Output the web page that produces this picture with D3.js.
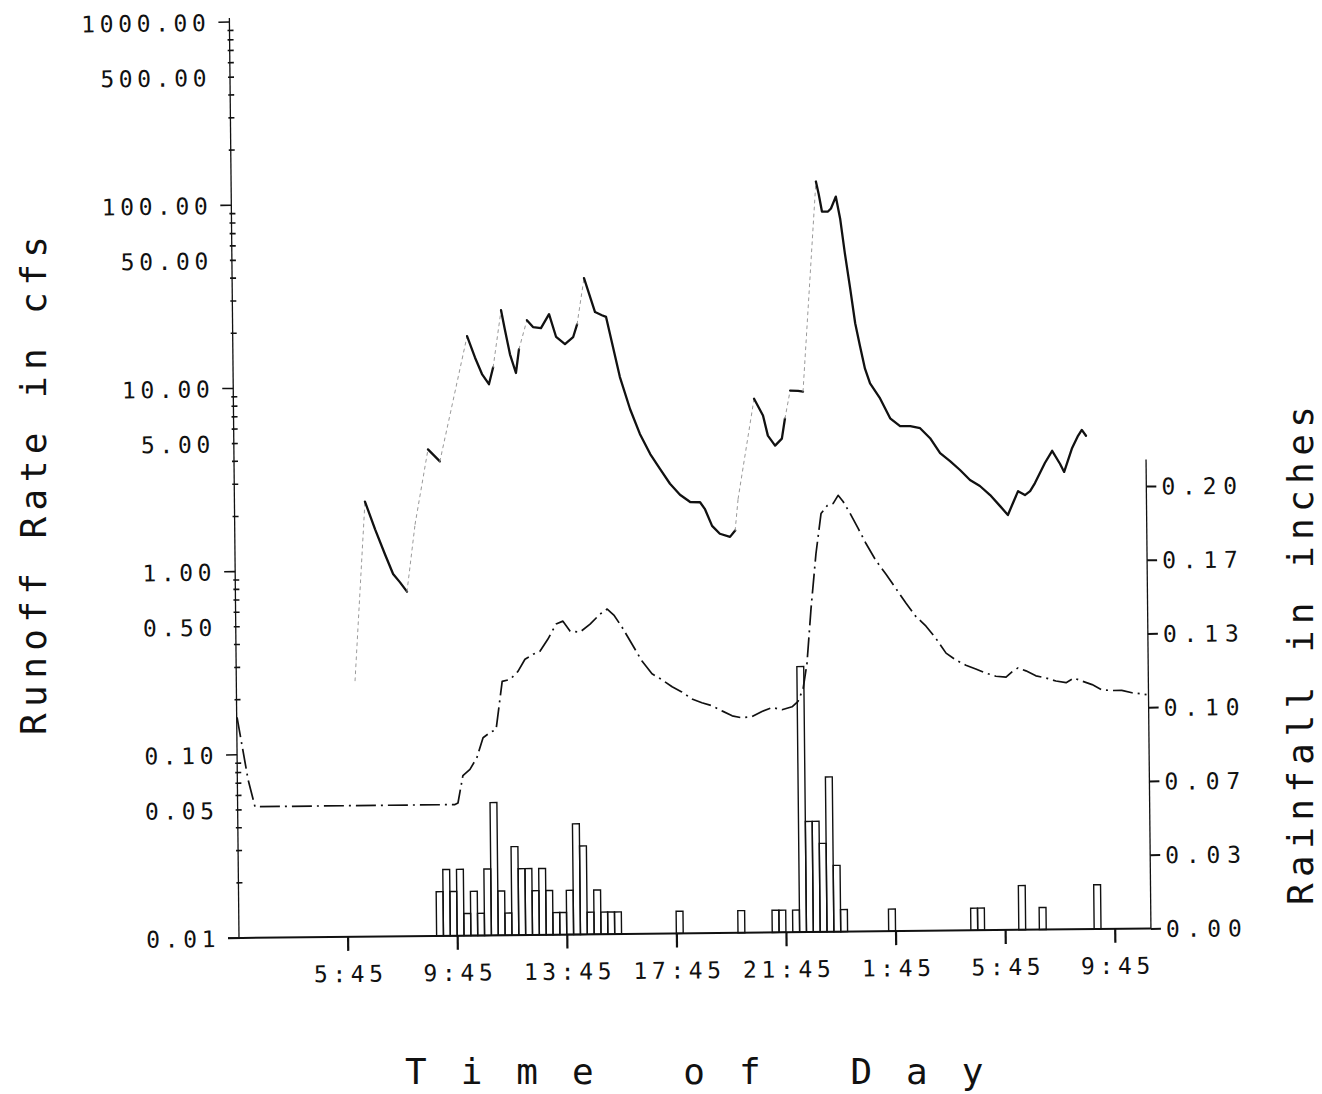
<!DOCTYPE html>
<html>
<head>
<meta charset="utf-8">
<script src="https://cdn.jsdelivr.net/npm/d3@7"></script>
<style>
  body { margin: 0; background: #fff; }
  svg { display: block; }
  .lbl { font-family: "DejaVu Sans Mono", monospace; fill: #111; }
</style>
</head>
<body>
<svg id="chart" width="1322" height="1094"></svg>
<script>
// ---- time axis (decimal hours from midnight of the first day) ----
const timeTicks = [5.75, 9.75, 13.75, 17.75, 21.75, 25.75, 29.75, 33.75];
const timeTickLabels = ["5:45", "9:45", "13:45", "17:45", "21:45", "1:45", "5:45", "9:45"];

// ---- runoff axis (cfs, log) ----
const runoffTicks = [1000, 500, 100, 50, 10, 5, 1, 0.5, 0.1, 0.05, 0.01];
const runoffTickLabels = ["1000.00", "500.00", "100.00", "50.00", "10.00", "5.00", "1.00", "0.50", "0.10", "0.05", "0.01"];

// ---- rainfall axis (inches) ----
const rainTicks = [0, 1 / 30, 2 / 30, 3 / 30, 4 / 30, 5 / 30, 6 / 30];
const rainTickLabels = ["0.00", "0.03", "0.07", "0.10", "0.13", "0.17", "0.20"];

// ---- observed runoff (cfs) ----
const observedTime = [6.12, 6.55, 6.91, 7.26, 7.55, 7.80, 8.05, 8.37, 8.87, 9.30,
  10.34, 10.62, 10.87, 11.12, 11.28, 11.59, 11.72, 11.90, 12.11, 12.23,
  12.53, 12.75, 13.04, 13.34, 13.59, 13.91, 14.21, 14.36, 14.63, 15.02,
  15.27, 15.42, 15.90, 16.26, 16.61, 16.98, 17.33, 17.69, 18.05, 18.42,
  18.78, 18.95, 19.21, 19.49, 19.86, 20.05, 20.17, 20.79, 21.11, 21.28,
  21.54, 21.79, 21.91, 22.11, 22.40, 22.58, 23.13, 23.23, 23.34, 23.56,
  23.67, 23.85, 24.00, 24.16, 24.34, 24.51, 24.68, 24.85, 25.03, 25.39,
  25.75, 26.11, 26.48, 26.84, 27.20, 27.56, 27.92, 28.28, 28.64, 29.00,
  29.37, 29.73, 30.01, 30.20, 30.39, 30.64, 30.83, 31.01, 31.38, 31.65,
  31.93, 32.08, 32.38, 32.60, 32.74, 32.89];
const observedFlow = [0.25, 2.37, 1.67, 1.22, 0.95, 0.855, 0.76, 1.77, 4.53, 3.89,
  18.7, 14.3, 11.6, 10.2, 12.6, 25.8, 20.3, 14.8, 11.7, 15.8,
  22.7, 20.8, 20.5, 24.4, 18.3, 16.7, 18.2, 21.4, 38.2, 24.9,
  23.9, 23.4, 11.0, 7.33, 5.35, 4.15, 3.44, 2.85, 2.48, 2.26,
  2.25, 2.07, 1.67, 1.51, 1.45, 1.57, 2.34, 8.2, 6.64, 5.15,
  4.54, 4.95, 6.37, 9.04, 9.0, 8.92, 124.8, 106, 85.5, 85.4,
  88.7, 103, 78.2, 50.4, 32.4, 20.9, 15.6, 11.8, 9.8, 8.1,
  6.3, 5.7, 5.69, 5.54, 4.88, 4.04, 3.65, 3.26, 2.87, 2.66,
  2.37, 2.06, 1.84, 2.14, 2.48, 2.36, 2.48, 2.74, 3.52, 4.10,
  3.48, 3.14, 4.24, 4.93, 5.31, 4.93];

// ---- simulated runoff (cfs) ----
const simulatedTime = [1.80, 2.18, 2.42, 9.72, 9.83, 10.02, 10.28, 10.54, 10.77, 11.03,
  11.25, 11.49, 11.78, 12.07, 12.33, 12.63, 12.88, 13.17, 13.48, 13.73,
  13.99, 14.35, 14.72, 15.08, 15.35, 15.59, 15.88, 16.24, 16.60, 16.96,
  17.32, 17.69, 18.04, 18.41, 18.77, 19.14, 19.50, 19.87, 20.22, 20.59,
  20.96, 21.33, 21.69, 22.06, 22.28, 22.47, 22.62, 22.79, 22.99, 23.19,
  23.42, 23.64, 23.82, 24.00, 24.25, 24.54, 24.82, 25.17, 25.54, 25.89,
  26.26, 26.61, 26.98, 27.33, 27.70, 28.06, 28.42, 28.78, 29.15, 29.51,
  29.88, 30.10, 30.32, 30.61, 30.97, 31.34, 31.70, 32.07, 32.36, 32.65,
  33.02, 33.37, 33.74, 34.10, 34.47, 34.83, 35.0];
const simulatedFlow = [0.16, 0.073, 0.052, 0.052, 0.053, 0.0748, 0.0807, 0.0938, 0.12, 0.128,
  0.133, 0.243, 0.249, 0.275, 0.32, 0.34, 0.353, 0.41, 0.496, 0.514,
  0.453, 0.447, 0.493, 0.558, 0.595, 0.551, 0.474, 0.382, 0.308, 0.262,
  0.243, 0.222, 0.208, 0.19, 0.181, 0.174, 0.163, 0.153, 0.149, 0.151,
  0.161, 0.169, 0.164, 0.17, 0.182, 0.213, 0.292, 0.584, 1.16, 1.92,
  2.12, 2.18, 2.41, 2.23, 1.92, 1.585, 1.31, 1.06, 0.887, 0.743,
  0.615, 0.521, 0.46, 0.395, 0.327, 0.299, 0.28, 0.267, 0.253, 0.243,
  0.24, 0.256, 0.269, 0.259, 0.243, 0.236, 0.227, 0.222, 0.235, 0.226,
  0.216, 0.202, 0.2, 0.2, 0.194, 0.191, 0.189];

// ---- 15-minute rainfall (inches); start hour of each interval ----
const rainInterval = 0.25;
const rainStart = [9.00, 9.25, 9.50, 9.75, 10.00, 10.25, 10.50, 10.75, 11.00, 11.25,
  11.50, 11.75, 12.00, 12.25, 12.50, 12.75, 13.00, 13.25, 13.50, 13.75,
  14.00, 14.25, 14.50, 14.75, 15.00, 15.25, 15.50,
  17.75, 20.00, 21.25, 21.50,
  22.00, 22.25, 22.50, 22.75, 23.00, 23.25, 23.50, 23.75,
  25.50, 28.50, 28.75, 30.25, 31.00, 33.00];
const rainDepth = [0.02, 0.03, 0.02, 0.03, 0.01, 0.02, 0.01, 0.03, 0.06, 0.02,
  0.01, 0.04, 0.03, 0.03, 0.02, 0.03, 0.02, 0.01, 0.01, 0.02,
  0.05, 0.04, 0.01, 0.02, 0.01, 0.01, 0.01,
  0.01, 0.01, 0.01, 0.01,
  0.01, 0.12, 0.05, 0.05, 0.04, 0.07, 0.03, 0.01,
  0.01, 0.01, 0.01, 0.02, 0.01, 0.02];

// ---- layout ----
const svg = d3.select("#chart");
const baseY = 938;
const leftX = 239;
const rightX = 1151;
const monoFont = '"DejaVu Sans Mono", monospace';

const x = d3.scaleLinear().domain([1.75, 35]).range([238, 1149]);
const yFlow = d3.scaleLog().domain([0.01, 1000]).range([baseY, 22]);
const yRain = d3.scaleLinear().domain([0, 0.2]).range([baseY, 495.5]);

// the plotted sheet sits at a slight tilt
const plot = svg.append("g").attr("transform", `rotate(-0.6 240 ${baseY})`);
const ink = "#111";

// left (runoff) axis
plot.append("line").attr("x1", leftX).attr("x2", leftX)
  .attr("y1", baseY).attr("y2", yFlow(1000) - 4)
  .attr("stroke", ink).attr("stroke-width", 1.3);
const decades = [0.01, 0.1, 1, 10, 100, 1000];
plot.append("g").selectAll("line").data(yFlow.ticks()).join("line")
  .attr("x1", d => decades.includes(d) ? leftX - 11 : leftX - 2)
  .attr("x2", d => decades.includes(d) ? leftX : leftX + 4)
  .attr("y1", d => yFlow(d)).attr("y2", d => yFlow(d))
  .attr("stroke", ink).attr("stroke-width", 1.6);
const leftAxis = d3.axisLeft(yFlow).tickValues(runoffTicks).tickSize(0).tickPadding(0)
  .tickFormat((d, i) => runoffTickLabels[i]);
const gl = plot.append("g").attr("transform", `translate(${leftX - 19},0)`).call(leftAxis);
gl.select(".domain").remove();
gl.selectAll("text").attr("class", "lbl").attr("font-size", 23)
  .attr("letter-spacing", "4.6px").attr("dy", "0.36em").style("font-family", monoFont);

// bottom (time) axis
plot.append("line").attr("x1", leftX - 11).attr("x2", rightX)
  .attr("y1", baseY).attr("y2", baseY).attr("stroke", ink).attr("stroke-width", 2);
const bottomAxis = d3.axisBottom(x).tickValues(timeTicks).tickSize(14).tickPadding(15)
  .tickFormat((d, i) => timeTickLabels[i]);
const gb = plot.append("g").attr("transform", `translate(0,${baseY})`).call(bottomAxis);
gb.select(".domain").remove();
gb.selectAll(".tick line").attr("stroke", ink).attr("stroke-width", 2.2);
gb.selectAll("text").attr("class", "lbl").attr("font-size", 23)
  .attr("letter-spacing", "4.6px").attr("dx", "2.3px").attr("dy", "0.7em")
  .style("font-family", monoFont);

// right (rainfall) axis
plot.append("line").attr("x1", rightX).attr("x2", rightX)
  .attr("y1", baseY).attr("y2", yRain(0.212))
  .attr("stroke", ink).attr("stroke-width", 1.3);
const rightAxis = d3.axisRight(yRain).tickValues(rainTicks).tickSize(10).tickPadding(5)
  .tickFormat((d, i) => rainTickLabels[i]);
const gr = plot.append("g").attr("transform", `translate(${rightX},0)`).call(rightAxis);
gr.select(".domain").remove();
gr.selectAll(".tick line").attr("stroke", ink).attr("stroke-width", 2);
gr.selectAll("text").attr("class", "lbl").attr("font-size", 23)
  .attr("letter-spacing", "6.8px").attr("dy", "0.36em")
  .style("font-family", monoFont);

// rainfall bars (open boxes)
const rain = rainStart.map((t, i) => ({ t, v: rainDepth[i] }));
plot.append("g").selectAll("rect").data(rain).join("rect")
  .attr("x", d => x(d.t))
  .attr("width", d => x(d.t + rainInterval) - x(d.t))
  .attr("y", d => yRain(d.v))
  .attr("height", d => yRain(0) - yRain(d.v))
  .attr("fill", "none").attr("stroke", ink).attr("stroke-width", 1.4);

// simulated runoff: dash-dot trace
const sim = simulatedTime.map((t, i) => ({ t, v: simulatedFlow[i] }));
const flowLine = d3.line().x(d => x(d.t)).y(d => yFlow(d.v));
plot.append("path").datum(sim).attr("d", flowLine)
  .attr("fill", "none").attr("stroke", ink).attr("stroke-width", 1.7)
  .attr("stroke-dasharray", "20,5,2,5").attr("stroke-linejoin", "round");

// observed runoff: the pen leaves only a faint trace on steep rising strokes
const obs = observedTime.map((t, i) => ({ t, v: observedFlow[i] }));
const runs = [];
let cur = [obs[0]];
for (let i = 1; i < obs.length; i++) {
  const rise = yFlow(obs[i - 1].v) - yFlow(obs[i].v);
  if (rise > 25) {
    if (cur.length > 1) runs.push({ faint: false, pts: cur });
    runs.push({ faint: true, pts: [obs[i - 1], obs[i]] });
    cur = [obs[i]];
  } else {
    cur.push(obs[i]);
  }
}
if (cur.length > 1) runs.push({ faint: false, pts: cur });

plot.append("g").selectAll("path").data(runs).join("path")
  .attr("d", d => flowLine(d.pts))
  .attr("fill", "none")
  .attr("stroke", d => d.faint ? "#9a9a9a" : ink)
  .attr("stroke-width", d => d.faint ? 1 : 2.3)
  .attr("stroke-dasharray", d => d.faint ? "3,4" : null)
  .attr("stroke-linejoin", "round").attr("stroke-linecap", "round");

// axis titles
svg.append("text").attr("class", "lbl")
  .attr("transform", "translate(46,735) rotate(-90)")
  .attr("font-size", 36).attr("letter-spacing", "6.4px")
  .style("font-family", monoFont)
  .text("Runoff Rate in cfs");

svg.append("text").attr("class", "lbl")
  .attr("transform", "translate(1313,905) rotate(-90)")
  .attr("font-size", 36).attr("letter-spacing", "6.4px")
  .style("font-family", monoFont)
  .text("Rainfall in inches");

svg.append("text").attr("class", "lbl")
  .attr("x", 405).attr("y", 1084)
  .attr("font-size", 36).attr("letter-spacing", "34px")
  .style("font-family", monoFont)
  .text("Time of Day");
</script>
</body>
</html>
